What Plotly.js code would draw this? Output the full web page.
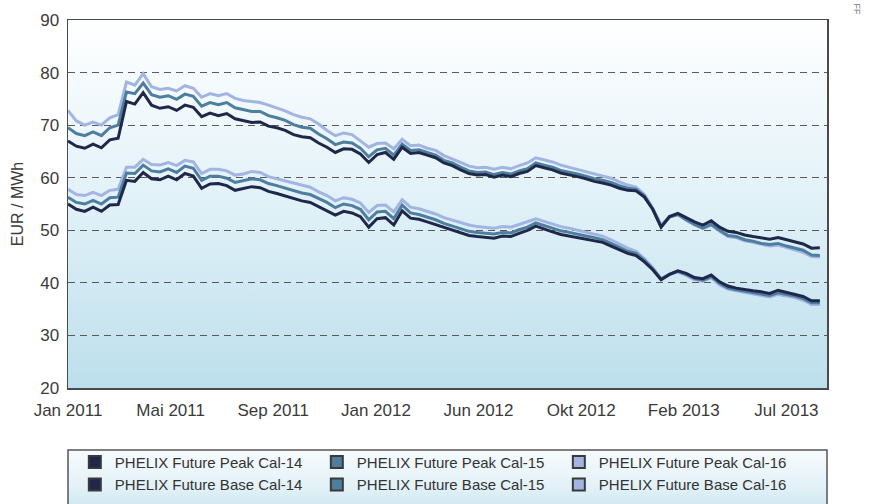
<!DOCTYPE html>
<html>
<head>
<meta charset="utf-8">
<script src="https://cdn.plot.ly/plotly-3.0.1.min.js"></script>
<style>html,body{margin:0;padding:0;background:#fff;}#chart{width:870px;height:504px;}</style>
</head>
<body>
<div id="chart"></div>
<script>
// x = trading-day index (0 = Jan 2011), sampled every 7 trading days
const day = [0,7,14,21,28,35,42,49,56,63,70,77,84,91,98,105,112,119,126,133,140,147,154,161,168,175,182,189,196,203,210,217,224,231,238,245,252,259,266,273,280,287,294,301,308,315,322,329,336,343,350,357,364,371,378,385,392,399,406,413,420,427,434,441,448,455,462,469,476,483,490,497,504,511,518,525,532,539,546,553,560,567,574,581,588,595,602,609,616,623,630];

const tickVals = [0,86,172,258,344,430,516,602];
const tickText = ["Jan 2011","Mai 2011","Sep 2011","Jan 2012","Jun 2012","Okt 2012","Feb 2013","Jul 2013"];

const seriesNames = ["PHELIX Future Peak Cal-14","PHELIX Future Peak Cal-15","PHELIX Future Peak Cal-16",
                     "PHELIX Future Base Cal-14","PHELIX Future Base Cal-15","PHELIX Future Base Cal-16"];

const peak14 = [67.0,66.0,65.6,66.4,65.7,67.2,67.5,74.5,74.0,76.2,73.8,73.2,73.5,72.8,73.8,73.4,71.6,72.3,71.8,72.2,71.2,70.8,70.5,70.6,69.8,69.5,69.0,68.2,67.8,67.6,66.6,65.8,64.8,65.5,65.4,64.5,62.9,64.4,64.8,63.5,65.8,64.6,64.8,64.3,63.8,62.8,62.3,61.5,60.8,60.5,60.6,60.1,60.5,60.2,60.8,61.2,62.3,61.9,61.5,60.9,60.6,60.2,59.8,59.3,59.0,58.6,58.0,57.6,57.5,56.3,54.0,50.6,52.6,53.2,52.4,51.6,51.0,51.8,50.6,49.8,49.6,49.1,48.8,48.5,48.3,48.6,48.2,47.8,47.4,46.6,46.7];
const peak15 = [69.5,68.4,68.0,68.7,68.0,69.5,70.0,76.3,76.0,78.0,75.8,75.3,75.6,74.9,75.9,75.5,73.6,74.3,73.9,74.3,73.3,72.9,72.6,72.6,71.8,71.4,70.9,70.1,69.6,69.4,68.3,67.4,66.3,66.8,66.6,65.6,64.0,65.3,65.6,64.3,66.4,65.2,65.3,64.8,64.3,63.3,62.8,62.0,61.3,61.0,61.1,60.6,61.0,60.7,61.3,61.7,62.8,62.4,62.0,61.4,61.1,60.7,60.3,59.8,59.5,59.1,58.5,58.0,57.8,56.5,54.0,50.7,52.5,53.0,52.0,51.1,50.4,51.1,50.0,49.0,48.8,48.2,47.9,47.5,47.3,47.5,47.0,46.6,46.2,45.3,45.2];
const peak16 = [72.8,70.8,70.0,70.6,70.0,71.4,72.0,78.2,77.6,79.8,77.3,76.8,77.0,76.5,77.5,77.0,75.3,76.0,75.6,76.0,75.1,74.7,74.5,74.3,73.8,73.3,72.7,72.0,71.5,71.2,70.2,69.0,68.0,68.5,68.2,67.0,65.8,66.5,66.6,65.5,67.3,66.1,66.2,65.6,65.2,64.2,63.6,62.9,62.2,61.9,62.0,61.6,62.0,61.7,62.3,62.8,63.8,63.4,63.0,62.4,62.0,61.6,61.2,60.7,60.4,59.9,59.2,58.6,58.2,56.8,54.2,51.0,52.6,53.0,51.9,51.0,50.3,51.0,49.8,48.8,48.6,48.0,47.7,47.3,47.0,47.2,46.7,46.3,45.8,45.0,44.9];
const base14 = [55.0,54.0,53.6,54.4,53.6,54.8,54.9,59.5,59.3,61.0,59.8,59.6,60.3,59.6,60.8,60.3,58.0,58.8,58.9,58.5,57.6,58.0,58.3,58.1,57.4,57.0,56.5,56.0,55.6,55.3,54.5,53.8,52.9,53.6,53.3,52.6,50.6,52.2,52.4,51.0,53.7,52.3,52.1,51.6,51.1,50.5,50.0,49.6,49.0,48.8,48.7,48.5,48.9,48.8,49.4,50.0,50.8,50.2,49.7,49.2,48.9,48.6,48.3,48.1,47.7,47.0,46.3,45.6,45.2,44.0,42.5,40.6,41.6,42.3,41.8,41.0,40.8,41.5,40.2,39.4,39.0,38.7,38.5,38.3,38.0,38.6,38.2,37.9,37.4,36.6,36.6];
const base15 = [56.3,55.3,55.0,55.7,55.0,56.2,56.3,60.9,60.8,62.4,61.3,61.1,61.7,61.0,62.2,61.8,59.5,60.3,60.3,59.9,59.1,59.4,59.8,59.6,58.9,58.5,58.0,57.5,57.1,56.8,56.0,55.3,54.3,55.0,54.7,54.0,52.0,53.5,53.6,52.2,54.8,53.3,53.0,52.5,52.0,51.3,50.8,50.4,49.8,49.6,49.5,49.3,49.6,49.5,50.1,50.6,51.4,50.9,50.4,49.9,49.6,49.2,48.9,48.6,48.2,47.5,46.8,46.0,45.6,44.3,42.7,40.7,41.6,42.2,41.6,40.8,40.5,41.2,39.9,39.0,38.7,38.4,38.1,37.9,37.6,38.1,37.8,37.5,37.0,36.2,36.2];
const base16 = [57.8,56.8,56.6,57.2,56.6,57.6,57.8,62.0,62.0,63.5,62.5,62.4,62.9,62.3,63.3,63.0,60.8,61.6,61.6,61.3,60.5,60.7,61.2,61.0,60.2,59.8,59.3,58.9,58.5,58.2,57.3,56.6,55.6,56.2,55.9,55.2,53.4,54.7,54.8,53.5,55.8,54.4,54.1,53.6,53.1,52.4,51.9,51.5,51.0,50.7,50.6,50.4,50.7,50.6,51.1,51.6,52.2,51.7,51.2,50.7,50.4,50.0,49.7,49.3,48.9,48.2,47.4,46.6,46.0,44.6,42.9,40.8,41.6,42.1,41.4,40.6,40.3,41.0,39.6,38.8,38.5,38.2,37.8,37.6,37.3,37.8,37.5,37.2,36.7,35.9,35.9];

const colors = ["#1f2849","#4e7e9e","#a2b5e2","#1f2849","#4e7e9e","#a2b5e2"];
const allSeries = [peak14, peak15, peak16, base14, base15, base16];

const traces = [];
const drawOrder = [2,1,0,5,4,3];
drawOrder.forEach(i => {
  traces.push({
    x: day, y: allSeries[i], type: 'scatter', mode: 'lines',
    line: {color: colors[i], width: 3, shape: 'linear'},
    showlegend: false, hoverinfo: 'skip'
  });
});
seriesNames.forEach((n, i) => {
  traces.push({
    x: [null], y: [null], type: 'scatter', mode: 'markers', name: n,
    marker: {symbol: 'square', size: 15, color: colors[i], line: {color: '#3a3a3a', width: 1}},
    showlegend: true, hoverinfo: 'skip'
  });
});

function grad(stops) {
  const s = "<svg xmlns='http://www.w3.org/2000/svg' width='10' height='100' preserveAspectRatio='none'>" +
    "<defs><linearGradient id='g' x1='0' y1='0' x2='0' y2='1'>" +
    stops.map(st => "<stop offset='" + st[0] + "' stop-color='" + st[1] + "'/>").join('') +
    "</linearGradient></defs><rect width='10' height='100' fill='url(#g)'/></svg>";
  return 'data:image/svg+xml;charset=utf-8,' + encodeURIComponent(s);
}

const font = "'Liberation Sans', Arial, Helvetica, sans-serif";

const layout = {
  width: 870, height: 504,
  margin: {l: 68, r: 43, t: 20, b: 116, autoexpand: false},
  paper_bgcolor: '#ffffff',
  plot_bgcolor: 'rgba(0,0,0,0)',
  font: {family: font, color: '#3a3a3a', size: 16},
  hovermode: false,
  xaxis: {
    range: [0, 636], tickmode: 'array', tickvals: tickVals, ticktext: tickText,
    showgrid: false, zeroline: false, showline: true, mirror: true,
    linecolor: '#4a4a4a', linewidth: 1.5, ticks: '', ticklen: 0,
    ticklabelstandoff: 6,
    tickfont: {size: 17, color: '#3a3a3a'}
  },
  yaxis: {
    range: [20, 90], dtick: 10, tick0: 20,
    showgrid: true, gridcolor: '#5a5a5a', gridwidth: 1, griddash: '7px,5px',
    zeroline: false, showline: true, mirror: true,
    linecolor: '#4a4a4a', linewidth: 1.5, ticks: '',
    ticklabelstandoff: 4,
    tickfont: {size: 17, color: '#3a3a3a'},
    title: {text: 'EUR / MWh', font: {size: 16, color: '#3a3a3a'}, standoff: 12}
  },
  images: [
    {source: grad([[0,'#ffffff'],[0.15,'#f6fbfd'],[0.5,'#e1f1f8'],[1,'#bcdfec']]),
     xref: 'paper', yref: 'paper', x: 0, y: 1, sizex: 1, sizey: 1,
     xanchor: 'left', yanchor: 'top', sizing: 'stretch', layer: 'below'},
    {source: grad([[0,'#f7fbfd'],[0.6,'#e3f2f8'],[1,'#cfe8f1']]),
     xref: 'paper', yref: 'paper', x: 0, y: -0.1685, sizex: 1, sizey: 0.16,
     xanchor: 'left', yanchor: 'top', sizing: 'stretch', layer: 'below'}
  ],
  shapes: [
    {type: 'rect', xref: 'paper', yref: 'paper', x0: 0, x1: 1, y0: -0.1685, y1: -0.40,
     line: {color: '#555555', width: 1.5}, fillcolor: 'rgba(0,0,0,0)', layer: 'above'}
  ],
  legend: {
    orientation: 'h', x: 0.009, y: -0.157, xanchor: 'left', yanchor: 'top',
    bgcolor: 'rgba(0,0,0,0)', borderwidth: 0,
    entrywidth: 197, entrywidthmode: 'pixels', traceorder: 'normal',
    font: {size: 15, color: '#333333', family: font}, itemsizing: 'constant'
  },
  annotations: [
    {text: 'FF', xref: 'paper', yref: 'paper', x: 1.04, y: 1.03, showarrow: false,
     textangle: 90, font: {size: 9, color: '#777777'}, xanchor: 'center', yanchor: 'middle'}
  ]
};

Plotly.newPlot('chart', traces, layout, {displayModeBar: false, staticPlot: true});
</script>
</body>
</html>
